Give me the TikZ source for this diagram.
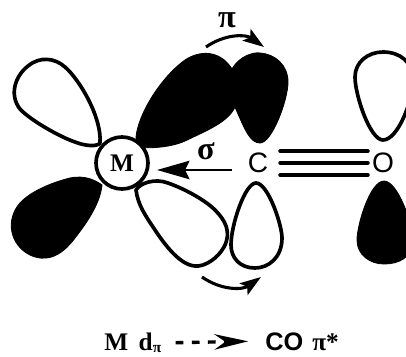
\documentclass[tikz,border=0pt]{standalone}
\usepackage{fontspec}
\setmainfont{Liberation Serif}
\newfontfamily\atomfont{Liberation Sans}
\usetikzlibrary{arrows.meta,positioning}
\tikzset{
  whitelobe/.style={draw=black,fill=white,line width=2.6pt,line join=round},
  blacklobe/.style={draw=black,fill=black,line width=0.6pt,line join=round},
  atomtext/.style={font=\fontsize{20}{24}\selectfont\atomfont,inner sep=0pt},
  boldtext/.style={font=\fontsize{18}{20}\selectfont\bfseries,inner sep=0pt},
  greektext/.style={font=\fontsize{23}{26}\selectfont\bfseries,inner sep=0pt},
  bondline/.style={line width=2.9pt,line cap=round},
  bigarrow/.style={line width=2pt,-{Stealth[length=23pt,width=13pt,inset=3pt]}},
  swingarrow/.style={line width=2.2pt,-{Stealth[length=15pt,width=10pt,inset=3pt]}}
}
\begin{document}
\begin{tikzpicture}[x=0.025cm,y=-0.025cm]
     \useasboundingbox (0,0) rectangle (406,356);
     \clip (0,0) rectangle (406,356);
     % metal lobes
     \draw[whitelobe] (100,143) .. controls (102,118) and (80,80) .. (65,67) .. controls (55,58) and (40,56) .. (28,66) .. controls (15,76) and (9,95) .. (20,109) .. controls (30,120) and (60,137) .. (75,142) .. controls (85,146) and (97,147) .. (100,143) -- cycle;
     \fill[blacklobe] (136,147) -- (136,137) .. controls (138,115) and (160,78) .. (185,60) .. controls (200,50) and (220,50) .. (232,69) -- (235,107) .. controls (228,122) and (208,130) .. (185,141) .. controls (172,147) and (150,149) .. (136,147) -- cycle;
     \fill[blacklobe] (232,69) .. controls (240,55) and (255,52) .. (260,53) .. controls (275,54) and (288,65) .. (288,82) .. controls (288,100) and (272,143) .. (260,143) .. controls (250,143) and (245,130) .. (235,107) -- cycle;
     \fill[blacklobe] (102,185) .. controls (95,180) and (85,175) .. (70,178) .. controls (50,183) and (30,192) .. (20,203) .. controls (5,220) and (10,245) .. (30,255) .. controls (45,262) and (60,258) .. (75,238) .. controls (85,225) and (100,205) .. (102,185) -- cycle;
     \draw[whitelobe] (136,190) .. controls (140,183) and (155,178) .. (168,183) .. controls (185,189) and (205,200) .. (215,210) .. controls (225,220) and (232,232) .. (224,247) .. controls (218,258) and (205,267) .. (195,266) .. controls (180,265) and (165,245) .. (155,230) .. controls (145,215) and (138,205) .. (136,190) -- cycle;
     \draw[whitelobe] (256,183) .. controls (268,183) and (282,225) .. (282,238) .. controls (282,258) and (268,268) .. (255,268) .. controls (240,268) and (231,258) .. (231,245) .. controls (231,225) and (245,183) .. (256,183) -- cycle;
     % oxygen lobes
     \draw[whitelobe] (383,52) .. controls (400,52) and (413,62) .. (413,80) .. controls (413,100) and (398,140) .. (383,140) .. controls (370,140) and (355,95) .. (355,77) .. controls (355,62) and (368,52) .. (383,52) -- cycle;
     \fill[blacklobe] (384,181) .. controls (398,181) and (413,225) .. (413,240) .. controls (413,258) and (398,264) .. (384,264) .. controls (370,264) and (357,255) .. (357,240) .. controls (357,225) and (370,181) .. (384,181) -- cycle;
     % atoms
     \node[circle,draw,fill=white,line width=2.6pt,minimum size=52*0.025cm,inner sep=0pt,font=\fontsize{18}{20}\selectfont\bfseries] (M) at (122,163) {M};
     \node[atomtext,minimum width=44*0.025cm] (C) at (258,163) {C};
     \node[atomtext,minimum width=30*0.025cm] (O) at (383,163) {O};
     \draw[bondline] ([yshift=8.5pt]C.east) -- ([yshift=8.5pt]O.west);
     \draw[bondline] (C.east) -- (O.west);
     \draw[bondline] ([yshift=-8.5pt]C.east) -- ([yshift=-8.5pt]O.west);
     \coordinate (sigmaend) at (232,170);
     \coordinate (sigmatip) at (157,170);
     \draw[bigarrow] (sigmaend) -- (sigmatip);
     \node[greektext] (sigma) at (206,151) {σ};
     % back donation arrows
     \node[greektext] (pi) at (227,20) {π};
     \coordinate (upstart) at (206,47);
     \coordinate (upend) at (264,47);
     \coordinate (downstart) at (202,277);
     \coordinate (downend) at (261,277);
     \draw[swingarrow] (upstart) to[bend left=35] (upend);
     \draw[swingarrow] (downstart) to[bend right=35] (downend);
     % caption
     \node[boldtext,anchor=base west] (md) at (104,350) {M\hspace{3pt} d\raisebox{-2pt}{\fontsize{11}{11}\selectfont π}};
     \node[atomtext,font=\fontsize{18}{20}\selectfont\atomfont\bfseries,anchor=base west] (co) at (265,350) {CO};
     \node[boldtext,anchor=base west] (pistar) at (312,350) {π*};
     \draw[line width=2.4pt,dash pattern=on 5.5pt off 6pt,-{Stealth[length=24pt,width=11pt]}] ([xshift=10pt]md.east) -- ([xshift=-12pt]co.west);
\end{tikzpicture}
\end{document}
